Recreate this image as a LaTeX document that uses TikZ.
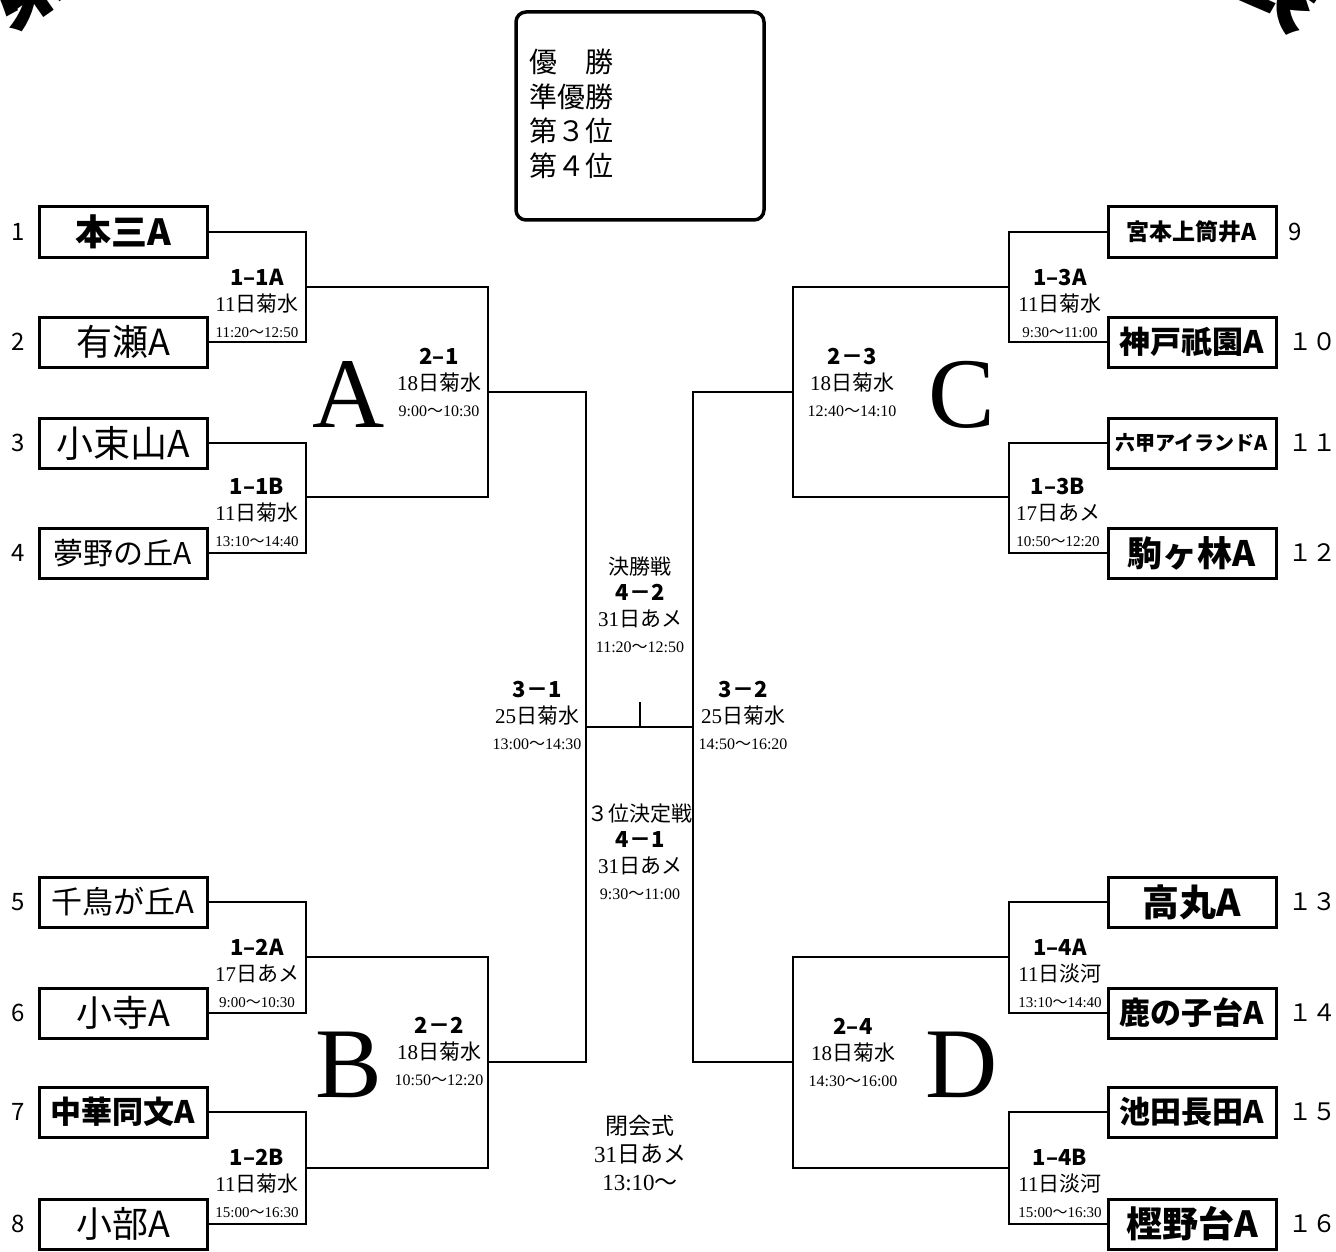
\documentclass[tikz,border=0pt]{standalone}
\usepackage{fontspec}
\usetikzlibrary{positioning}
\setmainfont{Liberation Serif}
\newfontfamily\jpfont{Noto Sans CJK JP}
\newcommand{\jp}[1]{{\jpfont #1}}
\newcommand{\wave}{\jp{〜}}
\newcommand{\fs}[1]{\fontsize{#1}{#1}\selectfont}
\newcommand{\game}[4][15]{{\jpfont\bfseries\fs{22}#2}\\#3\\{\fontsize{#1}{26}\selectfont #4}}

\begin{document}
\begin{tikzpicture}[x=1pt, y=-1pt]
\tikzstyle{team}=[rectangle, draw=black, line width=3pt, minimum width=168pt, minimum height=50pt, inner sep=0pt]
\tikzstyle{num}=[inner sep=0pt, font=\jpfont\fs{24}]
\tikzstyle{wire}=[line width=2.5pt, line cap=rect]
\tikzstyle{game}=[align=center, inner sep=0pt, font=\fontsize{21}{26}\selectfont]
\tikzstyle{group}=[anchor=base, inner sep=0pt, font=\fs{100}]
\useasboundingbox (0,0) rectangle (1336,1252);
% title, cut by the page edge
\node[rotate=35, font=\jpfont\bfseries\fs{90}] (title1) at (24,-22) {第};
\node[rotate=-35, font=\jpfont\bfseries\fs{90}] (title2) at (1282,-20) {表};
% result box
\node[draw, line width=3.5pt, rounded corners=10pt, minimum width=248pt, minimum height=208pt] (podium) at (640,116) {};
\node[anchor=north west, align=left, inner sep=0pt, font=\jpfont\fontsize{28}{34.5}\selectfont] (ranks) at (529,49) {優　勝\\準優勝\\第３位\\第４位};
% teams left
\node[team, font=\jpfont\bfseries\fs{36}] (t1) at (123,232) {本三A};
\node[team, font=\jpfont\fs{36}] (t2) at (123,342) {有瀬A};
\node[team, font=\jpfont\fs{37}] (t3) at (123,443) {小束山A};
\node[team, font=\jpfont\fs{30}] (t4) at (123,553) {夢野の丘A};
\node[team, font=\jpfont\fs{31}] (t5) at (123,902) {千鳥が丘A};
\node[team, font=\jpfont\fs{36}] (t6) at (123,1013) {小寺A};
\node[team, font=\jpfont\bfseries\fs{31}] (t7) at (123,1112) {中華同文A};
\node[team, font=\jpfont\fs{36}] (t8) at (123,1224) {小部A};
% teams right
\node[team, font=\jpfont\bfseries\fs{23}] (t9) at (1192,232) {宮本上筒井A};
\node[team, font=\jpfont\bfseries\fs{31}] (t10) at (1192,342) {神戸祇園A};
\node[team, font=\jpfont\bfseries\fs{20}] (t11) at (1192,443) {六甲アイランドA};
\node[team, font=\jpfont\bfseries\fs{35}] (t12) at (1192,553) {駒ヶ林A};
\node[team, font=\jpfont\bfseries\fs{37}] (t13) at (1192,902) {高丸A};
\node[team, font=\jpfont\bfseries\fs{31}] (t14) at (1192,1013) {鹿の子台A};
\node[team, font=\jpfont\bfseries\fs{31}] (t15) at (1192,1112) {池田長田A};
\node[team, font=\jpfont\bfseries\fs{36}] (t16) at (1192,1224) {樫野台A};
% seed numbers
\node[num] (n1) [left=12pt of t1] {1};
\node[num] (n2) [left=12pt of t2] {2};
\node[num] (n3) [left=12pt of t3] {3};
\node[num] (n4) [left=12pt of t4] {4};
\node[num] (n5) [left=12pt of t5] {5};
\node[num] (n6) [left=12pt of t6] {6};
\node[num] (n7) [left=12pt of t7] {7};
\node[num] (n8) [left=12pt of t8] {8};
\node[num] (n9) [right=11pt of t9] {9};
\node[num] (n10) [right=11pt of t10] {１０};
\node[num] (n11) [right=11pt of t11] {１１};
\node[num] (n12) [right=11pt of t12] {１２};
\node[num] (n13) [right=11pt of t13] {１３};
\node[num] (n14) [right=11pt of t14] {１４};
\node[num] (n15) [right=11pt of t15] {１５};
\node[num] (n16) [right=11pt of t16] {１６};
% bracket joints
\coordinate (q11) at (306,287);
\coordinate (q12) at (306,497);
\coordinate (q21) at (306,957);
\coordinate (q22) at (306,1168);
\coordinate (q31) at (1009,287);
\coordinate (q32) at (1009,497);
\coordinate (q41) at (1009,957);
\coordinate (q42) at (1009,1168);
\coordinate (s1) at (488,392);
\coordinate (s2) at (488,1062);
\coordinate (s3) at (793,392);
\coordinate (s4) at (793,1062);
\coordinate (c1) at (586,727);
\coordinate (c2) at (693,727);
\coordinate (fin) at (640,727);
\coordinate (tick) at (640,703);
\draw[wire] (t1.east) -| (q11) |- (t2.east);
\draw[wire] (t3.east) -| (q12) |- (t4.east);
\draw[wire] (t5.east) -| (q21) |- (t6.east);
\draw[wire] (t7.east) -| (q22) |- (t8.east);
\draw[wire] (t9.west) -| (q31) |- (t10.west);
\draw[wire] (t11.west) -| (q32) |- (t12.west);
\draw[wire] (t13.west) -| (q41) |- (t14.west);
\draw[wire] (t15.west) -| (q42) |- (t16.west);
\draw[wire] (q11) -| (s1) |- (q12);
\draw[wire] (q21) -| (s2) |- (q22);
\draw[wire] (q31) -| (s3) |- (q32);
\draw[wire] (q41) -| (s4) |- (q42);
\draw[wire] (s1) -| (c1) |- (s2);
\draw[wire] (s3) -| (c2) |- (s4);
\draw[wire] (c1) -- (c2);
\draw[wire] (fin) -- (tick);
% group letters
\node[group] (ga) at (349,427) {A};
\node[group] (gb) at (349,1097) {B};
\node[group] (gc) at (962,427) {C};
\node[group] (gd) at (962,1097) {D};
% match labels
\node[game] (g11a) at (257,303) {\game{1–1A}{11\jp{日菊水}}{11:20\wave 12:50}};
\node[game] (g11b) at (257,512) {\game{1–1B}{11\jp{日菊水}}{13:10\wave 14:40}};
\node[game] (g12a) at (257,973) {\game{1–2A}{17\jp{日あメ}}{9:00\wave 10:30}};
\node[game] (g12b) at (257,1183) {\game{1–2B}{11\jp{日菊水}}{15:00\wave 16:30}};
\node[game] (g13a) at (1060,303) {\game{1–3A}{11\jp{日菊水}}{9:30\wave 11:00}};
\node[game] (g13b) at (1058,512) {\game{1–3B}{17\jp{日あメ}}{10:50\wave 12:20}};
\node[game] (g14a) at (1060,973) {\game{1–4A}{11\jp{日淡河}}{13:10\wave 14:40}};
\node[game] (g14b) at (1060,1183) {\game{1–4B}{11\jp{日淡河}}{15:00\wave 16:30}};
\node[game] (g21) at (439,382) {\game[16]{2–1}{18\jp{日菊水}}{9:00\wave 10:30}};
\node[game] (g22) at (439,1051) {\game[16]{2－2}{18\jp{日菊水}}{10:50\wave 12:20}};
\node[game] (g23) at (852,382) {\game[16]{2－3}{18\jp{日菊水}}{12:40\wave 14:10}};
\node[game] (g24) at (853,1052) {\game[16]{2–4}{18\jp{日菊水}}{14:30\wave 16:00}};
\node[game] (g31) at (537,715) {\game[16]{3－1}{25\jp{日菊水}}{13:00\wave 14:30}};
\node[game] (g32) at (743,715) {\game[16]{3－2}{25\jp{日菊水}}{14:50\wave 16:20}};
\node[game] (g42) at (640,605) {\jp{決勝戦}\\\game[16]{4－2}{31\jp{日あメ}}{11:20\wave 12:50}};
\node[game] (g41) at (640,852) {\jp{３位決定戦}\\\game[16]{4－1}{31\jp{日あメ}}{9:30\wave 11:00}};
\node[game, font=\fontsize{23}{28}\selectfont] (close) at (640,1153) {\jp{閉会式}\\31\jp{日あメ}\\13:10\wave};
\end{tikzpicture}
\end{document}
